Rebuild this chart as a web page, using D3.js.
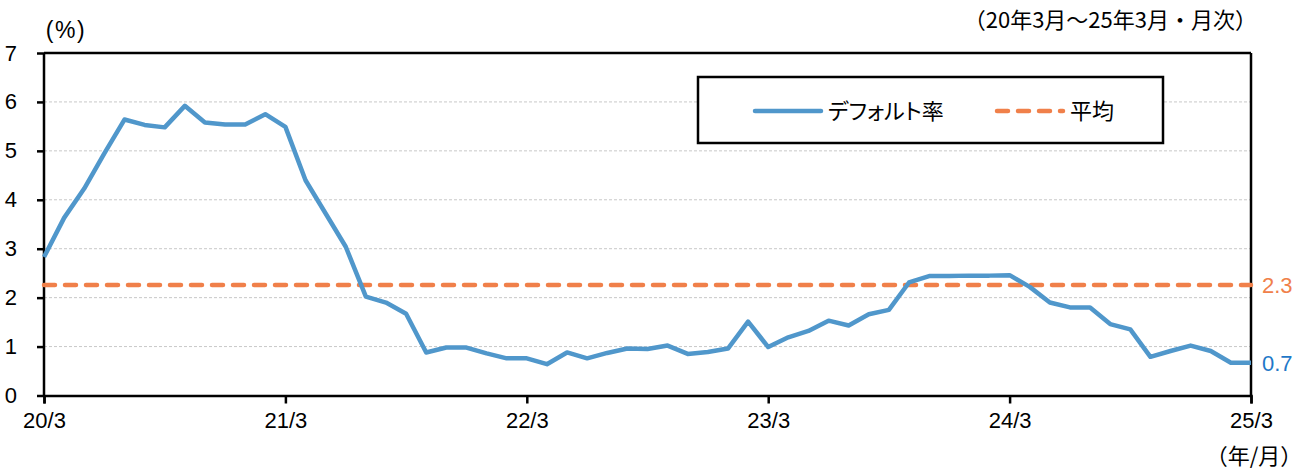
<!DOCTYPE html>
<html><head><meta charset="utf-8">
<script src="https://cdn.jsdelivr.net/npm/d3@7/dist/d3.min.js"></script>
<style>
body{margin:0;background:#fff;}
svg text{font-family:"Liberation Sans",Arial,sans-serif;}
.jp{font-family:"Noto Sans CJK JP","Liberation Sans",sans-serif;}
.palt{font-feature-settings:"palt";}
</style></head>
<body>
<svg id="c" width="1312" height="470"></svg>
<script>
// Monthly default rate, 2020/3 .. 2025/3
const months = d3.range(61);
const defaultRate = [2.83,3.63,4.23,4.95,5.64,5.53,5.48,5.92,5.58,5.54,5.54,5.75,
  5.49,4.40,3.72,3.04,2.02,1.90,1.67,0.88,0.98,0.98,0.86,0.76,
  0.76,0.64,0.88,0.76,0.87,0.96,0.95,1.02,0.85,0.89,0.96,1.51,
  0.99,1.19,1.32,1.53,1.43,1.66,1.75,2.31,2.44,2.44,2.45,2.45,
  2.46,2.22,1.90,1.80,1.80,1.46,1.35,0.79,0.91,1.02,0.91,0.67,0.67];
const average = 2.26;
const yTicks = [0,1,2,3,4,5,6,7];
const xTickIdx = [0,12,24,36,48,60];
const xTickLabels = ["20/3","21/3","22/3","23/3","24/3","25/3"];
const avgLabel = "2.3", lastLabel = "0.7";
const seriesNames = ["デフォルト率","平均"];

const blue = "#5097CB", orange = "#F0804A";
const svg = d3.select("#c");
const L = 44, R = 1251, T = 53, B = 395.5;
const x = d3.scaleLinear().domain([0,60]).range([L,R]);
const y = d3.scaleLinear().domain([0,7]).range([B,T]);

// gridlines
svg.append("g").selectAll("line").data(yTicks.filter(d=>d>0&&d<7)).join("line")
  .attr("x1",L).attr("x2",R).attr("y1",d=>y(d)).attr("y2",d=>y(d))
  .attr("stroke","#c8c8c8").attr("stroke-width",1).attr("stroke-dasharray","3,2");

// frame top/right
svg.append("line").attr("x1",L).attr("x2",R).attr("y1",T).attr("y2",T).attr("stroke","#000").attr("stroke-width",2.5);
svg.append("line").attr("x1",R).attr("x2",R).attr("y1",T).attr("y2",B).attr("stroke","#000").attr("stroke-width",2.5);

// axes
const yAxis = svg.append("g").attr("transform",`translate(${L},0)`)
  .call(d3.axisLeft(y).tickValues(yTicks).tickSize(7).tickPadding(20).tickFormat(d3.format("d")));
const xAxis = svg.append("g").attr("transform",`translate(0,${B})`)
  .call(d3.axisBottom(x).tickValues(xTickIdx).tickSize(8).tickPadding(9).tickFormat((d,i)=>xTickLabels[i]));
[yAxis,xAxis].forEach(a=>{
  a.selectAll("path").attr("stroke","#000").attr("stroke-width",2.5);
  a.selectAll("line").attr("stroke","#000").attr("stroke-width",2.5);
  a.selectAll("text").attr("font-size",22).attr("fill","#000").attr("font-family","Liberation Sans, Arial, sans-serif");
});
yAxis.select("path").attr("d",`M0,${T}V${B}`);

// average line
svg.append("line").attr("x1",x(0)).attr("x2",x(60)).attr("y1",y(average)).attr("y2",y(average))
  .attr("stroke",orange).attr("stroke-width",4.5).attr("stroke-dasharray","11,10").attr("stroke-linecap","round");

// series line
svg.append("path").datum(months)
  .attr("d",d3.line().x(i=>x(i)).y(i=>y(defaultRate[i])))
  .attr("fill","none").attr("stroke",blue).attr("stroke-width",4.5).attr("stroke-linejoin","round");

// end labels
svg.append("text").attr("x",R+11).attr("y",y(average)+8).attr("font-size",22).attr("fill",orange).text(avgLabel);
svg.append("text").attr("x",R+11).attr("y",y(defaultRate[60])+8).attr("font-size",22).attr("fill","#1F78C8").text(lastLabel);

// titles
svg.append("text").attr("x",66).attr("y",38).attr("text-anchor","middle").attr("font-size",23).attr("letter-spacing",1.5).text("(%)");
svg.append("text").attr("class","jp").attr("x",1257).attr("y",28).attr("text-anchor","end").attr("font-size",22).text("（20年3月～25年3月・月次）");
svg.append("text").attr("class","jp").attr("x",1254).attr("y",464).attr("text-anchor","middle").attr("font-size",22).text("（年/月）");

// legend
const lg = svg.append("g");
lg.append("rect").attr("x",698).attr("y",77).attr("width",465).attr("height",66).attr("fill","#fff").attr("stroke","#000").attr("stroke-width",2.5);
lg.append("line").attr("x1",755).attr("x2",821).attr("y1",111).attr("y2",111).attr("stroke",blue).attr("stroke-width",4.5).attr("stroke-linecap","round");
lg.append("text").attr("class","jp palt").attr("x",828).attr("y",119).attr("font-size",22).text(seriesNames[0]);
lg.append("line").attr("x1",997).attr("x2",1063).attr("y1",111).attr("y2",111).attr("stroke",orange).attr("stroke-width",4.5).attr("stroke-dasharray","11,10").attr("stroke-linecap","round");
lg.append("text").attr("class","jp").attr("x",1070).attr("y",119).attr("font-size",22).text(seriesNames[1]);
</script>
</body></html>
